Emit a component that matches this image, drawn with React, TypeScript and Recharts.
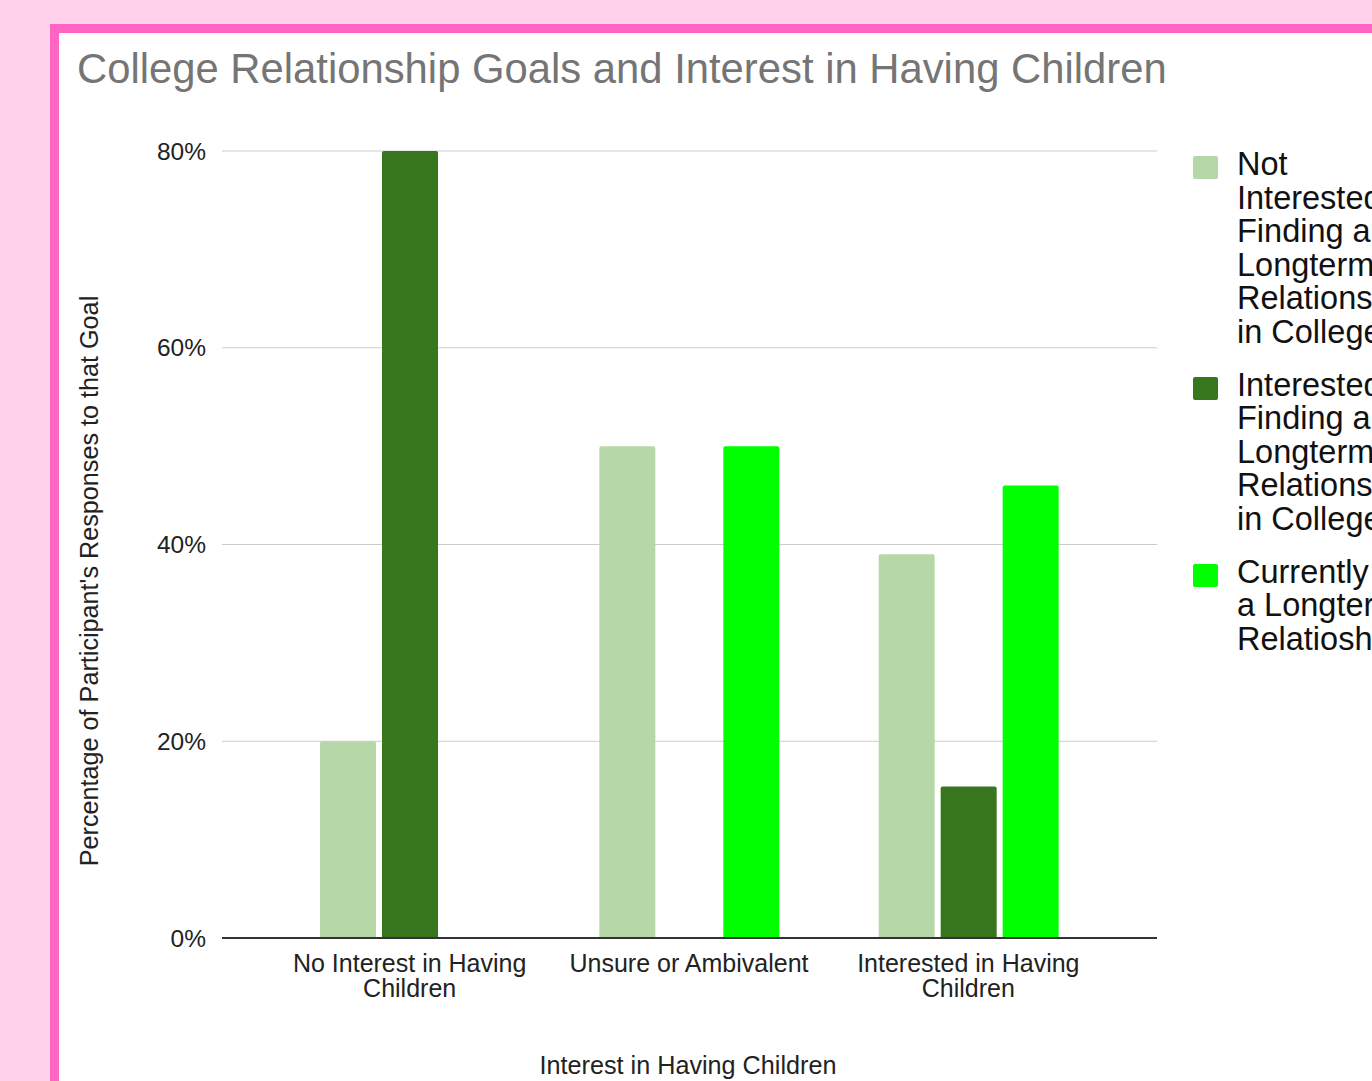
import * as React from "react";
import { BarChart, Bar, XAxis, YAxis, CartesianGrid } from "recharts";

const FONT = '"Liberation Sans", Arial, Helvetica, sans-serif';

// tick labels carry their line break as in the reference
const categories = ["No Interest in Having\nChildren", "Unsure or Ambivalent", "Interested in Having\nChildren"];
const notInterested = [20, 50, 39];
const interested = [80, null, 15.4];
const currentlyIn = [null, 50, 46];
const yTicks = [0, 20, 40, 60, 80];

const series = [
  { key: "notInterested", color: "#b6d7a8", lines: ["Not", "Interested in", "Finding a", "Longterm", "Relationship", "in College"] },
  { key: "interested", color: "#38761d", lines: ["Interested in", "Finding a", "Longterm", "Relationship", "in College"] },
  { key: "currentlyIn", color: "#00ff00", lines: ["Currently in", "a Longterm", "Relatioship"] },
];

const rows = categories.map((c, i) => ({
  name: c,
  notInterested: notInterested[i],
  interested: interested[i],
  currentlyIn: currentlyIn[i],
}));

function CategoryTick(props: any) {
  const { x, y, payload } = props;
  const lines = String(payload.value).split("\n");
  return (
    <text x={x} y={y} textAnchor="middle" fill="#222" style={{ fontSize: 25, fontFamily: FONT }}>
      {lines.map((l, i) => (
        <tspan key={i} x={x} dy={i === 0 ? 17.5 : 25}>
          {l}
        </tspan>
      ))}
    </text>
  );
}

export default function App() {
  return (
    <div style={{ position: "absolute", left: 0, top: 0, width: 1372, height: 1081, overflow: "hidden", background: "#ffd1ea", fontFamily: FONT }}>
      <div style={{ position: "absolute", left: 50, top: 24, width: 1400, height: 1100, border: "9px solid #ff66c4", background: "#fff" }} />

      <div style={{ position: "absolute", left: 77, top: 45, fontSize: 41.8, color: "#757575", whiteSpace: "nowrap" }}>
        College Relationship Goals and Interest in Having Children
      </div>

      <div style={{ position: "absolute", left: 89, top: 581, transform: "translate(-50%, -50%) rotate(-90deg)", fontSize: 25.2, color: "#222", whiteSpace: "nowrap" }}>
        Percentage of Participant's Responses to that Goal
      </div>

      <div style={{ position: "absolute", left: 688, top: 1051, transform: "translateX(-50%)", fontSize: 25.2, color: "#222", whiteSpace: "nowrap" }}>
        Interest in Having Children
      </div>

      <div style={{ position: "absolute", left: 0, top: 0 }}>
        <BarChart width={1372} height={1081} data={rows} margin={{ top: 151, right: 215, bottom: 63, left: 0 }} barSize={56} barGap={6}>
          <CartesianGrid stroke="#cccccc" vertical={false} />
          <XAxis
            dataKey="name"
            height={80}
            padding={{ left: 48, right: 49 }}
            tickLine={false}
            tickMargin={10}
            axisLine={{ stroke: "#333", strokeWidth: 2 }}
            tick={<CategoryTick />}
            interval={0}
          />
          <YAxis
            width={222}
            domain={[0, 80]}
            ticks={yTicks}
            tickFormatter={(v) => `${v}%`}
            axisLine={false}
            tickLine={false}
            tickMargin={10}
            tick={{ fill: "#222", fontSize: 24.5, fontFamily: FONT }}
          />
          {series.map((s) => (
            <Bar key={s.key} dataKey={s.key} fill={s.color} radius={[2, 2, 0, 0]} isAnimationActive={false} />
          ))}
        </BarChart>
      </div>

      <div style={{ position: "absolute", left: 1193, top: 148 }}>
        {series.map((s) => (
          <div key={s.key} style={{ display: "flex", alignItems: "flex-start", marginBottom: 19 }}>
            <div style={{ width: 25, height: 23, marginTop: 8, background: s.color, borderRadius: 2, flex: "none" }} />
            <div style={{ marginLeft: 19, fontSize: 32.5, lineHeight: "33.6px", color: "#111", whiteSpace: "nowrap" }}>
              {s.lines.map((l, i) => (
                <div key={i}>{l}</div>
              ))}
            </div>
          </div>
        ))}
      </div>
    </div>
  );
}
